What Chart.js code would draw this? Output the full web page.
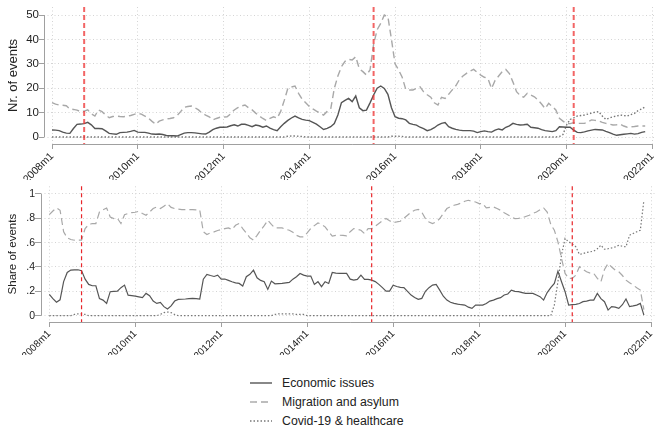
<!DOCTYPE html>
<html lang="en">
<head>
<meta charset="UTF-8">
<title>Events by topic</title>
<script src="https://cdn.jsdelivr.net/npm/chart.js@4"></script>
<style>
  body { margin: 0; background: #fff; font-family: "Liberation Sans", Arial, sans-serif; }
  #wrap { position: relative; width: 656px; height: 427px; }
  .panel { position: absolute; left: 0; width: 656px; }
  #topPanel { top: 0; height: 180px; }
  #botPanel { top: 180px; height: 175px; }
  #legend { position: absolute; left: 250px; top: 373px; font-size: 12.3px; color: #222; }
  .row { height: 19.3px; display: flex; align-items: center; }
  .row svg { width: 22px; height: 4px; margin-right: 10px; }
</style>
</head>
<body>
<div id="wrap">
  <div class="panel" id="topPanel"><canvas id="topChart"></canvas></div>
  <div class="panel" id="botPanel"><canvas id="botChart"></canvas></div>
  <div id="legend"></div>
</div>

<script>
// months 2008m1 .. 2022m12, data runs 2008m1 .. 2021m11
const months = [];
for (let y = 2008; y <= 2022; y++) for (let m = 1; m <= 12; m++) months.push(y + 'm' + m);

const xTickLabels = ['2008m1', '2010m1', '2012m1', '2014m1', '2016m1', '2018m1', '2020m1', '2022m1'];
const eventMonths = ['2008m10', '2015m7', '2020m3'];
const seriesNames = ['Economic issues', 'Migration and asylum', 'Covid-19 & healthcare'];

// Nr. of events (one row per year)
const countEcon = [
  2.9, 2.8, 2.6, 2.0, 1.6, 1.5, 3.5, 5.2, 5.3, 5.5, 6.0, 5.0,
  3.5, 3.5, 3.4, 2.5, 1.5, 1.3, 1.1, 1.8, 1.9, 2.0, 2.3, 2.7,
  2.0, 1.9, 1.9, 1.6, 1.2, 1.1, 1.2, 1.0, 0.6, 0.5, 0.5, 0.4,
  1.0, 1.6, 1.8, 1.8, 1.7, 1.5, 1.3, 1.2, 2.0, 3.0, 3.6, 4.0,
  4.0, 4.1, 4.6, 5.0, 4.5, 5.2, 5.2, 4.8, 4.2, 4.9, 4.6, 4.0,
  4.5, 3.6, 3.0, 2.6, 4.2, 5.6, 6.8, 7.8, 8.6, 7.8, 7.2, 6.9,
  6.7, 6.0, 5.3, 4.2, 3.1, 3.5, 4.2, 5.5, 9.0, 14.1, 15.0, 15.8,
  14.5, 16.8, 12.0, 10.8, 11.0, 14.0, 17.2, 20.0, 20.9, 19.9, 17.5, 12.0,
  8.3, 7.7, 7.5, 7.0, 5.6, 5.2, 4.9, 4.0, 3.4, 2.6, 3.0, 3.8,
  4.9, 5.6, 5.9, 4.2, 3.6, 3.1, 2.8, 2.6, 2.6, 2.6, 2.4, 1.8,
  2.2, 2.5, 2.2, 2.0, 2.8, 3.3, 2.9, 4.0, 4.6, 5.6, 5.2, 4.9,
  5.0, 5.2, 4.0, 3.8, 3.6, 3.0, 2.6, 2.4, 2.2, 2.6, 4.2, 4.1,
  4.0, 4.0, 2.8, 1.9, 1.8, 2.1, 2.5, 2.8, 3.1, 3.0, 2.9, 2.3,
  1.8, 1.2, 0.7, 0.9, 1.1, 1.3, 1.5, 1.2, 1.4, 1.9, 2.2
];
const countMigration = [
  14.1, 13.5, 13.1, 13.0, 12.8, 11.5, 11.3, 11.0, 10.4, 10.6, 11.1, 9.5,
  8.6, 11.1, 10.4, 9.0, 7.9, 8.4, 8.6, 8.4, 8.3, 8.5, 8.8, 9.3,
  9.7, 9.4, 8.6, 7.7, 6.4, 5.2, 6.5, 7.0, 7.4, 7.6, 7.9, 8.8,
  10.4, 12.2, 12.5, 12.7, 12.0, 11.1, 9.8, 9.0, 8.3, 7.0, 7.6, 8.1,
  8.2, 8.3, 9.5, 11.1, 12.0, 12.7, 13.1, 12.0, 11.1, 9.8, 8.6, 7.6,
  6.7, 7.6, 8.3, 7.7, 10.5, 15.0, 19.9, 20.5, 20.9, 17.9, 15.5, 14.0,
  12.5, 11.5, 10.6, 9.8, 9.0, 10.5, 11.5, 19.9, 25.0, 28.8, 31.0, 31.8,
  31.6, 32.9, 28.0, 26.8, 25.4, 27.5, 38.0, 44.0, 46.6, 50.0, 49.3, 40.0,
  30.0, 27.5, 24.5, 19.5, 19.3, 19.3, 20.0, 20.6, 18.5, 17.3, 16.3, 14.0,
  13.1, 16.3, 15.8, 17.5, 19.3, 21.0, 23.5, 25.0, 26.1, 27.0, 27.7, 26.5,
  25.4, 24.5, 24.0, 19.9, 23.2, 25.0, 26.8, 27.7, 26.0, 22.5, 18.6, 17.0,
  16.3, 17.9, 17.2, 16.5, 15.2, 13.5, 11.7, 13.8, 12.5, 11.1, 7.7, 6.5,
  5.5, 5.5, 5.9, 5.6, 5.6, 5.6, 6.2, 7.0, 6.8, 6.6, 6.0, 5.6,
  5.3, 4.9, 5.0, 5.3, 4.5, 4.0, 4.2, 4.3, 4.5, 4.5, 4.5
];
const countCovid = [
  0, 0, 0, 0, 0, 0, 0, 0, 0, 0, 0, 0,
  0, 0, 0, 0, 0, 0, 0, 0, 0, 0, 0, 0,
  0, 0, 0, 0, 0, 0, 0, 0, 0, 0, 0, 0,
  0, 0, 0, 0, 0, 0, 0, 0, 0, 0, 0, 0,
  0, 0, 0, 0, 0, 0, 0, 0, 0, 0, 0, 0,
  0, 0, 0, 0, 0, 0, 0.3, 0.4, 0.4, 0.3, 0.2, 0,
  0, 0, 0, 0, 0, 0, 0, 0, 0, 0, 0, 0,
  0, 0, 0, 0, 0, 0, 0, 0, 0, 0, 0, 0.3,
  0.3, 0.3, 0.2, 0, 0, 0, 0, 0, 0, 0, 0, 0,
  0, 0, 0, 0, 0, 0, 0, 0, 0, 0, 0, 0,
  0, 0, 0, 0, 0, 0, 0, 0, 0, 0, 0, 0,
  0, 0, 0, 0, 0, 0, 0, 0, 0, 0, 0.2, 1.0,
  4.9, 7.2, 7.8, 8.6, 8.8, 9.0, 9.4, 9.8, 10.2, 10.4, 8.6, 7.2,
  7.8, 8.3, 8.6, 9.0, 8.8, 8.6, 9.2, 9.7, 10.8, 11.5, 12.4
];

// Share of events
const shareEcon = [
  .175, .14, .11, .13, .28, .355, .375, .377, .377, .37, .30, .257,
  .246, .246, .14, .128, .101, .197, .20, .202, .23, .251, .169, .165,
  .161, .155, .148, .183, .164, .12, .101, .109, .074, .055, .08, .12,
  .134, .135, .137, .14, .142, .14, .137, .30, .339, .33, .322, .333,
  .301, .301, .29, .279, .27, .265, .243, .32, .34, .374, .311, .29,
  .279, .216, .284, .262, .264, .265, .27, .273, .30, .32, .347, .333,
  .325, .325, .257, .279, .238, .279, .265, .355, .35, .347, .347, .347,
  .30, .292, .298, .333, .298, .298, .292, .28, .257, .23, .202, .202,
  .251, .24, .232, .23, .20, .169, .15, .135, .142, .20, .23, .251,
  .257, .21, .16, .128, .11, .101, .095, .09, .087, .07, .06, .087,
  .087, .087, .10, .12, .128, .14, .148, .17, .178, .21, .20, .197,
  .19, .183, .183, .183, .17, .156, .128, .19, .23, .265, .366, .279,
  .197, .087, .09, .093, .10, .115, .12, .128, .128, .183, .14, .115,
  .046, .074, .07, .06, .09, .137, .074, .08, .087, .101, .005
];
const shareMigration = [
  .83, .86, .885, .866, .689, .639, .626, .62, .62, .62, .716, .749,
  .757, .757, .852, .87, .885, .811, .798, .80, .757, .83, .84, .847,
  .85, .858, .84, .825, .852, .88, .893, .88, .90, .92, .89, .88,
  .875, .872, .872, .872, .872, .87, .869, .689, .667, .68, .689, .70,
  .708, .715, .721, .708, .743, .757, .716, .68, .64, .62, .66, .702,
  .74, .784, .75, .721, .721, .721, .71, .702, .685, .66, .648, .648,
  .68, .716, .74, .762, .75, .73, .69, .653, .66, .661, .66, .656,
  .69, .716, .71, .702, .675, .716, .716, .735, .757, .78, .798, .78,
  .765, .77, .776, .80, .825, .85, .866, .874, .85, .798, .77, .757,
  .77, .798, .84, .88, .895, .907, .915, .925, .94, .948, .94, .934,
  .921, .921, .885, .89, .893, .88, .866, .845, .83, .81, .798, .80,
  .803, .815, .825, .84, .852, .87, .885, .852, .75, .702, .607, .47,
  .347, .306, .306, .333, .402, .38, .361, .35, .347, .306, .279, .38,
  .429, .40, .374, .361, .33, .292, .27, .251, .23, .21, .05
];
const shareCovid = [
  0, 0, 0, 0, 0, 0, 0, .01, .015, .015, .01, 0,
  0, 0, 0, 0, 0, 0, 0, 0, 0, 0, 0, 0,
  0, 0, 0, 0, 0, 0, 0, .01, .025, .03, .025, .01,
  0, 0, 0, 0, 0, 0, 0, 0, 0, 0, 0, 0,
  0, 0, 0, 0, 0, 0, 0, 0, 0, 0, 0, 0,
  0, 0, 0, .01, .015, .015, .015, .015, .015, .01, .01, .01,
  0, 0, 0, 0, 0, 0, 0, 0, 0, 0, 0, 0,
  0, 0, 0, 0, 0, 0, 0, 0, 0, 0, 0, 0,
  0, 0, 0, 0, 0, 0, 0, 0, 0, 0, 0, 0,
  0, 0, 0, 0, 0, 0, 0, 0, 0, 0, 0, 0,
  0, 0, 0, 0, 0, 0, 0, 0, 0, 0, 0, 0,
  0, 0, 0, 0, 0, 0, 0, 0, 0, .087, .28, .5,
  .634, .607, .59, .566, .503, .51, .519, .525, .53, .55, .579, .546,
  .55, .557, .565, .579, .57, .566, .661, .675, .689, .702, .948
];

const countTicks = [0, 10, 20, 30, 40, 50];
const shareTicks = [0, .2, .4, .6, .8, 1];

const lineStyles = [
  { color: '#555555', dash: [] },
  { color: '#a8a8a8', dash: [7, 4] },
  { color: '#777777', dash: [1.5, 2] }
];

Chart.defaults.font.family = '"Liberation Sans", Arial, sans-serif';
Chart.defaults.color = '#222';

// Stata-like axis lines and the red event markers
const stataDecor = {
  id: 'stataDecor',
  afterDatasetsDraw(chart, args, opts) {
    const { ctx, chartArea: a, scales: { x, y } } = chart;
    ctx.save();
    ctx.strokeStyle = opts.eventColor;
    ctx.lineWidth = opts.eventWidth;
    ctx.setLineDash(opts.eventDash);
    eventMonths.forEach(m => {
      const px = x.getPixelForValue(months.indexOf(m));
      ctx.beginPath();
      ctx.moveTo(px, a.top);
      ctx.lineTo(px, a.bottom);
      ctx.stroke();
    });
    ctx.setLineDash([]);
    ctx.strokeStyle = '#a0a0a0';
    ctx.lineWidth = 1;
    const yt = opts.yTicks;
    ctx.beginPath();
    ctx.moveTo(a.left + 0.5, y.getPixelForValue(yt[0]));
    ctx.lineTo(a.left + 0.5, y.getPixelForValue(yt[yt.length - 1]));
    const x0 = x.getPixelForValue(months.indexOf(xTickLabels[0]));
    const x1 = x.getPixelForValue(months.indexOf(xTickLabels[xTickLabels.length - 1]));
    ctx.moveTo(x0, a.bottom + 0.5);
    ctx.lineTo(x1, a.bottom + 0.5);
    ctx.stroke();
    ctx.restore();
  }
};

function makePanel(id, values, o) {
  const datasets = values.map((vals, k) => ({
    label: seriesNames[k],
    data: vals.map((v, i) => ({ x: i, y: v })),
    borderColor: lineStyles[k].color,
    borderDash: lineStyles[k].dash,
    borderWidth: o.lineWidth,
    pointRadius: 0,
    tension: 0,
    fill: false
  }));
  return new Chart(document.getElementById(id), {
    type: 'line',
    data: { datasets },
    plugins: [stataDecor],
    options: {
      responsive: true,
      maintainAspectRatio: false,
      animation: false,
      layout: { padding: { top: o.padTop, right: 1, left: 0, bottom: 0 } },
      plugins: {
        legend: { display: false },
        tooltip: { enabled: false },
        stataDecor: { yTicks: o.yTicks, eventColor: o.eventColor, eventWidth: o.eventWidth, eventDash: o.eventDash }
      },
      scales: {
        x: {
          type: 'linear',
          min: o.xMin,
          max: o.xMax,
          afterBuildTicks: s => { s.ticks = xTickLabels.map(l => ({ value: months.indexOf(l) })); },
          afterFit: s => { s.height = o.xHeight; s.paddingLeft = 0; s.paddingRight = 0; },
          ticks: {
            autoSkip: false, maxRotation: 45, minRotation: 45, padding: 1,
            font: { size: o.xFont },
            callback: v => months[v]
          },
          grid: { color: '#d4d4d4', tickColor: '#a0a0a0', tickLength: 5, tickBorderDash: [] },
          border: { display: false, dash: [1, 2.5] }
        },
        y: {
          min: o.yMin,
          max: o.yMax,
          afterBuildTicks: s => { s.ticks = o.yTicks.map(v => ({ value: v })); },
          afterFit: s => { s.width = o.yWidth; },
          title: { display: true, text: o.yTitle, font: { size: o.titleFont }, padding: { top: o.titlePad } },
          ticks: {
            padding: 0,
            font: { size: o.yFont },
            callback: o.yFormat
          },
          grid: { color: '#d4d4d4', tickColor: '#a0a0a0', tickLength: o.yTickLen, tickBorderDash: [] },
          border: { display: false, dash: [1, 2.5] }
        }
      }
    }
  });
}

makePanel('topChart', [countEcon, countMigration, countCovid], {
  lineWidth: 1.4, padTop: 7, xMin: -2.24, xMax: 168.75, yMin: -2.87, yMax: 53.3,
  xHeight: 36, yWidth: 44, yTicks: countTicks, yTitle: 'Nr. of events',
  titleFont: 13, titlePad: 6, xFont: 10.5, yFont: 11.5, yTickLen: 5,
  yFormat: v => String(v),
  eventColor: 'rgba(238,50,50,0.75)', eventWidth: 2, eventDash: [5, 3]
});

makePanel('botChart', [shareEcon, shareMigration, shareCovid], {
  lineWidth: 1.2, padTop: 6, xMin: -2.32, xMax: 169.1, yMin: -0.052, yMax: 1.063,
  xHeight: 33, yWidth: 41, yTicks: shareTicks, yTitle: 'Share of events',
  titleFont: 11.5, titlePad: 6, xFont: 10, yFont: 10.5, yTickLen: 6,
  yFormat: v => (v === 0 || v === 1) ? String(v) : String(Math.round(v * 10) / 10).replace(/^0/, ''),
  eventColor: '#e8262b', eventWidth: 1.2, eventDash: [4, 3]
});

// legend
const legend = document.getElementById('legend');
seriesNames.forEach((name, k) => {
  const st = lineStyles[k];
  const row = document.createElement('div');
  row.className = 'row';
  row.innerHTML = '<svg viewBox="0 0 22 4"><line x1="0" y1="2" x2="22" y2="2" stroke="' + st.color +
    '" stroke-width="1.4" stroke-dasharray="' + (st.dash.length ? st.dash.join(' ') : 'none') + '"/></svg>' +
    '<span>' + name.replace('&', '&amp;') + '</span>';
  legend.appendChild(row);
});
</script>
</body>
</html>
